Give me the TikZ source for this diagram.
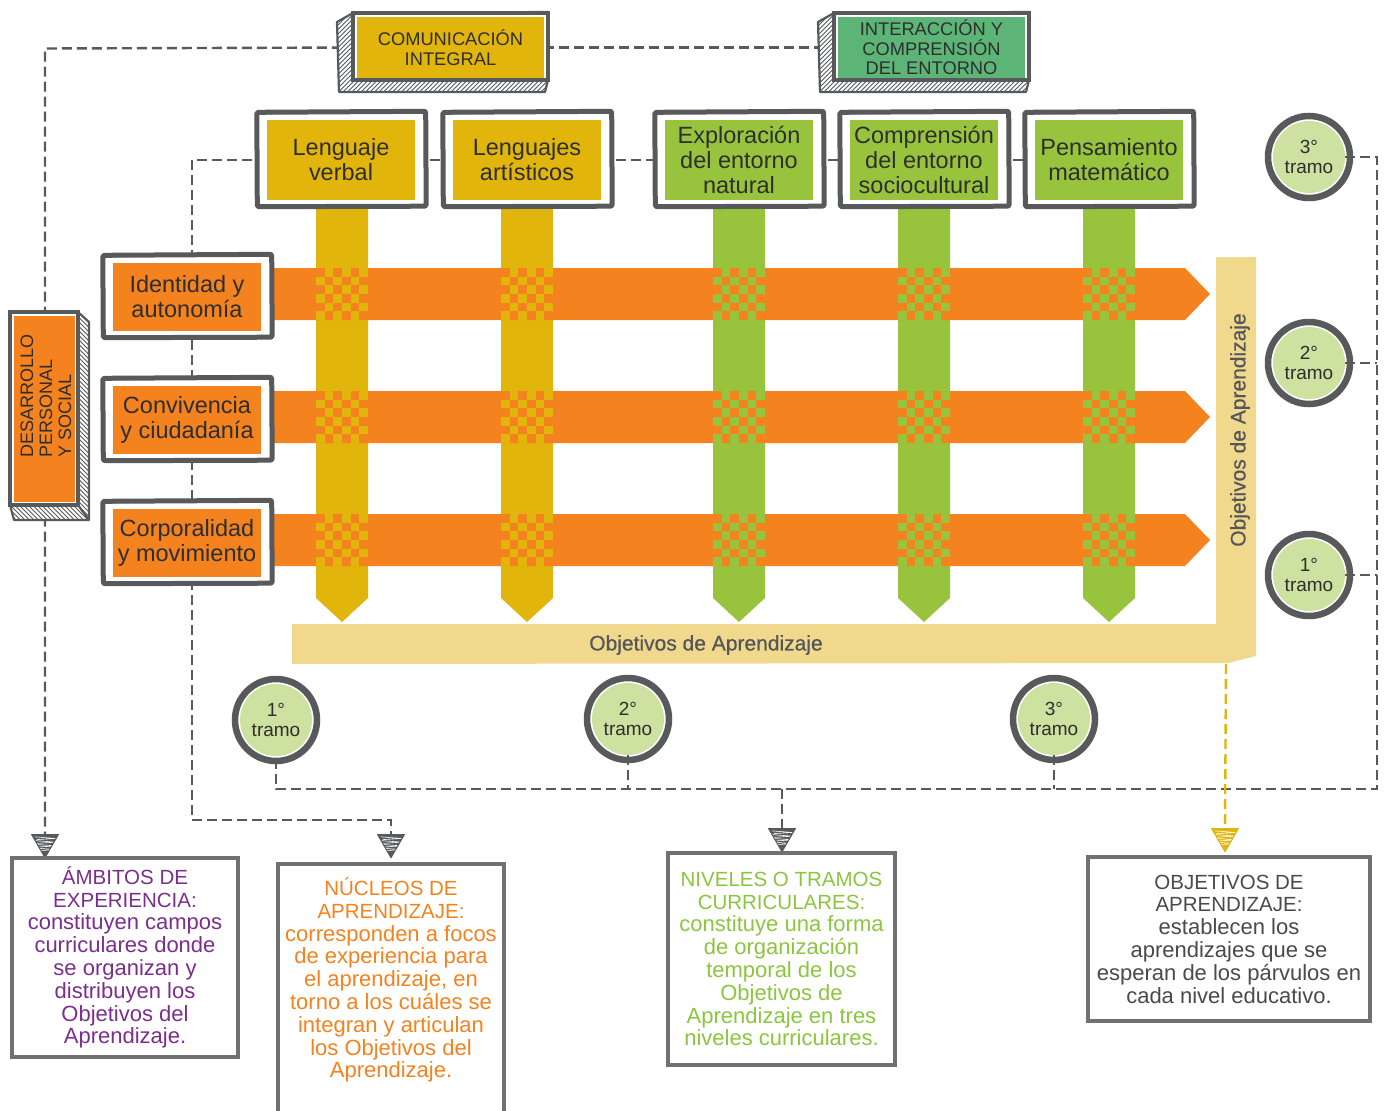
\documentclass[tikz,border=0pt]{standalone}
\usepackage{fontspec}
\setmainfont{Liberation Sans}
\newfontfamily\mymedium[FakeBold=0.6]{Liberation Sans}
\usetikzlibrary{shapes.geometric,calc}

\definecolor{framegray}{HTML}{58595B}
\definecolor{ink}{HTML}{2E2E2E}
\definecolor{amarillo}{HTML}{E1B50B}
\definecolor{verde}{HTML}{97C43C}
\definecolor{verdeosc}{HTML}{5CB577}
\definecolor{naranja}{HTML}{F3821F}
\definecolor{arena}{HTML}{F0D88C}
\definecolor{verdeclaro}{HTML}{CDE1A0}
\definecolor{morado}{HTML}{7C2E8E}
\definecolor{verdetexto}{HTML}{8CC63F}
\definecolor{grisbox}{HTML}{707173}
\definecolor{gristexto}{HTML}{4A4A4A}
\definecolor{arenatexto}{HTML}{55565A}

\pgfdeclarelayer{back}
\pgfdeclarelayer{mid}
\pgfsetlayers{back,mid,main}

\newcommand\myhdfont{\fontsize{20.5}{22.8}\selectfont}

\tikzset{
  dashline/.style={draw=framegray, line width=2.4, dash pattern=on 10pt off 5pt},
  area/.style={inner sep=0, text=ink, align=center, font=\fontsize{23.5}{25}\selectfont},
  topbox/.style={area, minimum width=148, minimum height=80},
  leftbox/.style={area, fill=naranja, minimum width=148, minimum height=68},
  frame/.style={draw=framegray, line width=5, fill=white, line join=round, rounded corners=2},
  hdr/.style={inner sep=0, text=ink, align=center, font=\fontsize{18.3}{19.5}\selectfont,
    minimum width=187, minimum height=61},
  tramo/.style={circle, fill=verdeclaro, minimum size=72, inner sep=0, text=ink, align=center,
    font=\fontsize{19}{20}\selectfont},
  ring/.style={draw=framegray, line width=6.5},
  arrowtri/.style={regular polygon, regular polygon sides=3, shape border rotate=180,
    minimum size=31, inner sep=0, anchor=north, fill=#1, draw=#1, line width=1, line join=round,
    path picture={
      \foreach \f in {0.10,0.26,0.42,0.58}{
        \draw[white, line width=0.6]
          ($(path picture bounding box.north west)!\f!(path picture bounding box.south west)+(3,0)$) --
          ($(path picture bounding box.north east)!\f+0.07!(path picture bounding box.south east)+(-3,0)$) --
          ($(path picture bounding box.north west)!\f+0.12!(path picture bounding box.south west)+(5,0)$);
      }}},
  infobox/.style={draw=grisbox, line width=3.5, fill=white, inner sep=0},
  infotext/.style={align=center, font=\fontsize{22}{22.8}\selectfont, inner sep=0},
  hatch/.style={draw=framegray, line width=0.8},
  outline/.style={draw=framegray, line width=2.2, line join=round},
  bartext/.style={inner sep=0, text=arenatexto, font=\mymedium\fontsize{21}{23}\selectfont},
}

% frame with a white gap around a coloured text area
\newcommand\skframe[1]{%
  \begin{pgfonlayer}{mid}
    \draw[frame] ([shift={(-10,-7.5)}]#1.north west) -- ([shift={(10.5,-8.5)}]#1.north east)
      -- ([shift={(11,6)}]#1.south east) -- ([shift={(-9.5,6.5)}]#1.south west) -- cycle;
    \draw[framegray, line width=1.6] ([shift={(-12,-6)}]#1.north west) -- ([shift={(12,-9.5)}]#1.north east);
  \end{pgfonlayer}}

% extruded, hatched block behind a header
\newcommand\skhatchblock[1]{%
  \begin{pgfonlayer}{mid}
  \begin{scope}[shift={(#1,0)}]
    \fill[white] (337,22) -- (353,13) -- (548,13) -- (548,80) -- (545,92) -- (339,92) -- cycle;
    \begin{scope}
      \clip (337,22) -- (353,13) -- (353,80) -- (548,80) -- (545,92) -- (339,92) -- cycle;
      \foreach \k in {250,254.5,...,560} \draw[hatch] (\k,95) -- (\k+85,10);
    \end{scope}
    \draw[outline] (337,22) -- (353,13) -- (548,12) -- (548,80) -- (545,92) -- (339,92) -- cycle;
    \draw[outline] (353,80) -- (548,80);
    \draw[framegray, line width=3.5] (353,13) rectangle (548,80);
  \end{scope}
  \end{pgfonlayer}}

% woven crossing of a column and a band
\newcommand\skweave[3]{%
  \foreach \i in {0,...,5}{\foreach \j in {0,...,5}{%
    \pgfmathtruncatemacro\chk{mod(\i+\j,2)}%
    \ifnum\chk=1 \fill[#3] ({#1-26+\i*52/6},{#2-26+\j*52/6}) rectangle ++(8.7,8.7);\fi}}}

% vertical column ending in an arrow
\newcommand\skcolumn[2]{%
  \fill[#2] ({#1-26},200) -- ({#1+26},200) -- ({#1+26},598) -- (#1,622) -- ({#1-26},598) -- cycle;}

% horizontal band ending in an arrow
\newcommand\skband[1]{%
  \fill[naranja] (262,{#1-26}) -- (1185,{#1-26}) -- (1210,#1) -- (1185,{#1+26}) -- (262,{#1+26}) -- cycle;}

\begin{document}
\begin{tikzpicture}[x=1pt,y=-1pt]
\useasboundingbox (0,0) rectangle (1387,1111);

% ---------- columns, bands, weaving and the learning-goals bar ----------
\begin{pgfonlayer}{back}
  \fill[white] (0,0) rectangle (1387,1111);
  \skcolumn{342}{amarillo}
  \skcolumn{527}{amarillo}
  \skcolumn{739}{verde}
  \skcolumn{924}{verde}
  \skcolumn{1109}{verde}
  \skband{294}
  \skband{417}
  \skband{540}
  \foreach \cy in {294,417,540}{
    \skweave{342}{\cy}{amarillo}
    \skweave{527}{\cy}{amarillo}
    \skweave{739}{\cy}{verde}
    \skweave{924}{\cy}{verde}
    \skweave{1109}{\cy}{verde}
  }
  \fill[arena] (1216,257) -- (1256,257) -- (1256,656) -- (1228,663) -- (292,664) -- (292,624)
    -- (1216,624) -- cycle;
\end{pgfonlayer}
\node[bartext] (oah) at (706,645) {Objetivos de Aprendizaje};
\node[bartext, rotate=90] (oav) at (1240,430) {Objetivos de Aprendizaje};
\coordinate (oaend) at (1226,664);

% ---------- headers ----------
\skhatchblock{0}
\skhatchblock{481}
\node[hdr, fill=amarillo] (ci) at (450.5,47.5) {COMUNICACIÓN\\INTEGRAL};
\node[hdr, fill=verdeosc] (ie) at (931.5,47.5) {INTERACCIÓN Y\\COMPRENSIÓN\\DEL ENTORNO};

% ---------- personal and social development block ----------
\begin{pgfonlayer}{mid}
  \fill[white] (10,312) -- (78,312) -- (89,322) -- (89,520) -- (14,520) -- (10,505) -- cycle;
  \begin{scope}
    \clip (78,312) -- (89,322) -- (89,520) -- (14,520) -- (10,505) -- (78,505) -- cycle;
    \foreach \k in {-240,-235.5,...,100} \draw[hatch] (\k,300) -- (\k+230,530);
  \end{scope}
  \draw[outline] (10,312) -- (78,312) -- (89,322) -- (89,520) -- (14,520) -- (10,505) -- cycle;
  \draw[outline] (78,312) -- (78,505) -- (89,520);
  \draw[framegray, line width=3.5] (10,312) rectangle (78,505);
\end{pgfonlayer}
\node[fill=naranja, minimum width=61, minimum height=186, inner sep=0] (dps) at (44.5,409) {};
\node[rotate=90, anchor=west, align=left, font=\fontsize{18}{19}\selectfont, text=ink, inner sep=0]
  (dpstext) at (46,458) {DESARROLLO\\PERSONAL\\Y SOCIAL};

% ---------- learning cores ----------
\node[topbox, fill=amarillo] (lv) at (341,160) {Lenguaje\\verbal};
\node[topbox, fill=amarillo] (la) at (527,160) {Lenguajes\\artísticos};
\node[topbox, fill=verde] (en) at (739,160) {Exploración\\del entorno\\natural};
\node[topbox, fill=verde] (ec) at (924,160) {Comprensión\\del entorno\\sociocultural};
\node[topbox, fill=verde] (pm) at (1109,160) {Pensamiento\\matemático};
\node[leftbox] (ia) at (187,297) {Identidad y\\autonomía};
\node[leftbox] (cc) at (187,420) {Convivencia\\y ciudadanía};
\node[leftbox] (cm) at (187,543) {Corporalidad\\y movimiento};
\foreach \b in {lv,la,en,ec,pm,ia,cc,cm} {\skframe{\b}}

% ---------- levels ----------
\node[tramo] (r3) at (1309,157) {3°\\tramo};
\node[tramo] (r2) at (1309,363) {2°\\tramo};
\node[tramo] (r1) at (1309,575) {1°\\tramo};
\node[tramo] (b1) at (276,720) {1°\\tramo};
\node[tramo] (b2) at (628,719) {2°\\tramo};
\node[tramo] (b3) at (1054,719) {3°\\tramo};
\begin{pgfonlayer}{mid}
  \foreach \t in {r3,r2,r1,b1,b2,b3} {
    \draw[ring] (\t.center) circle[radius=41];
    \draw[framegray, line width=3, line cap=round] (\t.center) ++(-62:42.5) arc[start angle=-62, end angle=-32, radius=42.5];
  }
\end{pgfonlayer}

% ---------- arrow heads ----------
\node[arrowtri=framegray] (arrA) at (45,834) {};
\node[arrowtri=framegray] (arrN) at (391,834) {};
\node[arrowtri=framegray] (arrV) at (782,828) {};
\node[arrowtri=amarillo] (arrO) at (1225,828) {};

% ---------- dashed connectors ----------
\coordinate (kA) at (45,48.5);
\coordinate (kB) at (192,160);
\coordinate (kC) at (192,820);
\coordinate (kR) at (1377,157);
\coordinate (kS) at (1377,789);
\begin{pgfonlayer}{back}
  \draw[dashline] (ci.west) -- (kA) -- (arrA.north);
  \draw[dashline] (ci.east) -- (ie.west);
  \draw[dashline] (lv.west) -- (kB) -- (kC) -- (kC -| arrN.north) -- (arrN.north);
  \draw[dashline] (lv.east) -- (la.west);
  \draw[dashline] (la.east) -- (en.west);
  \draw[dashline] (en.east) -- (ec.west);
  \draw[dashline] (ec.east) -- (pm.west);
  \draw[dashline] (r3.east) -- (kR) -- (kS) -- (b1.south |- kS) -- (b1.south);
  \draw[dashline] (r2.east) -- (r2.east -| kR);
  \draw[dashline] (r1.east) -- (r1.east -| kR);
  \draw[dashline] (b2.south) -- (b2.south |- kS);
  \draw[dashline] (b3.south) -- (b3.south |- kS);
  \draw[dashline] (arrV.north |- kS) -- (arrV.north);
  \draw[dashline, draw=amarillo] (oaend) -- (arrO.north);
\end{pgfonlayer}

% ---------- explanation boxes ----------
\node[infobox, infotext, text=morado, minimum width=226, minimum height=199] (amb) at (125,957.5)
  {{\myhdfont ÁMBITOS DE}\\{\myhdfont EXPERIENCIA:}\\constituyen campos\\curriculares donde\\se organizan y\\distribuyen los\\Objetivos del\\Aprendizaje.};
\node[infobox, minimum width=226, minimum height=262, anchor=north] (nuc) at (391,862) {};
\node[infotext, text=naranja] (nuct) at (391,980)
  {{\myhdfont NÚCLEOS DE}\\{\myhdfont APRENDIZAJE:}\\corresponden a focos\\de experiencia para\\el aprendizaje, en\\torno a los cuáles se\\integran y articulan\\los Objetivos del\\Aprendizaje.};
\node[infobox, infotext, text=verdetexto, minimum width=227, minimum height=212] (niv) at (781.5,959)
  {{\myhdfont NIVELES O TRAMOS}\\{\myhdfont CURRICULARES:}\\constituye una forma\\de organización\\temporal de los\\Objetivos de\\Aprendizaje en tres\\niveles curriculares.};
\node[infobox, infotext, text=gristexto, minimum width=282, minimum height=164] (obj) at (1229,939)
  {{\myhdfont OBJETIVOS DE}\\{\myhdfont APRENDIZAJE:}\\establecen los\\aprendizajes que se\\esperan de los párvulos en\\cada nivel educativo.};
\end{tikzpicture}
\end{document}
